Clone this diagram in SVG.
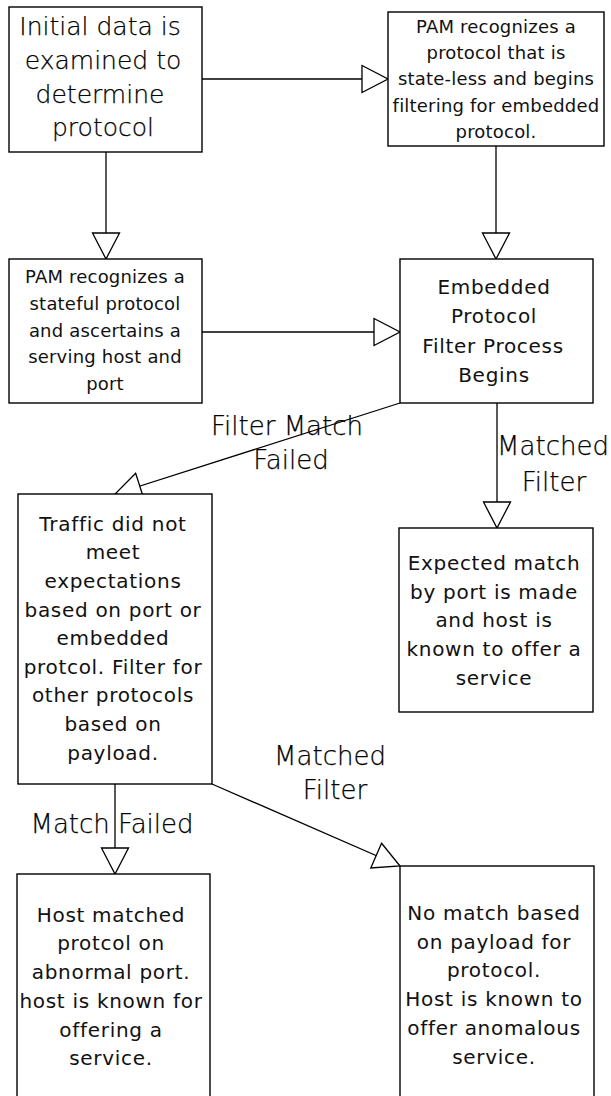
<svg xmlns="http://www.w3.org/2000/svg" width="611" height="1096" viewBox="0 0 611 1096">
  <style>
    .box { fill: #ffffff; stroke: #000000; stroke-width: 1.4; }
    .edge { fill: none; stroke: #000000; stroke-width: 1.3; marker-end: url(#open-tri); }
    text { font-family: "DejaVu Sans", Verdana, sans-serif; fill: #111111; text-anchor: middle; }
    .big { font-size: 25px; font-weight: 200; fill: #000000; stroke: #000000; stroke-width: 0.25; }
    .small { font-size: 18px; letter-spacing: 0.2px; }
    .mid { font-size: 20px; letter-spacing: 0.7px; }
    .label { font-size: 26px; font-weight: 200; fill: #000000; stroke: #000000; stroke-width: 0.25; }
  </style>
  <defs>
    <!-- hollow triangular arrowhead, tip at the end of the line -->
    <marker id="open-tri" markerUnits="userSpaceOnUse" markerWidth="30" markerHeight="32" refX="27" refY="15" orient="auto">
      <path d="M1,1.5 L27,15 L1,28.5 Z" fill="#ffffff" stroke="#000000" stroke-width="1.3"/>
    </marker>
  </defs>
  <rect width="611" height="1096" fill="#ffffff"/>

  <!-- connectors -->
  <g id="connectors">
    <line class="edge" x1="202" y1="79" x2="388" y2="79"/>
    <line class="edge" x1="106" y1="152" x2="106" y2="259"/>
    <line class="edge" x1="496" y1="146" x2="496" y2="259"/>
    <line class="edge" x1="202" y1="332" x2="400" y2="332"/>
    <line class="edge" x1="400" y1="403" x2="115" y2="494"/>
    <line class="edge" x1="497" y1="403" x2="497" y2="528"/>
    <line class="edge" x1="115" y1="784" x2="115" y2="874"/>
    <line class="edge" x1="212" y1="784" x2="400" y2="866"/>
    <text class="label" x="287" y="435">Filter Match</text>
    <text class="label" x="291" y="469">Failed</text>
    <text class="label" x="553" y="455">Matched</text>
    <text class="label" x="554" y="491">Filter</text>
    <text class="label" x="330" y="765">Matched</text>
    <text class="label" x="335" y="799">Filter</text>
    <text class="label" x="112" y="833">Match Failed</text>
  </g>

  <g id="examine">
    <rect class="box" x="9" y="7" width="193" height="145"/>
    <text class="big" x="100" y="35">Initial data is</text>
    <text class="big" x="103" y="69">examined to</text>
    <text class="big" x="100" y="102.5">determine</text>
    <text class="big" x="103" y="136">protocol</text>
  </g>

  <g id="stateless">
    <rect class="box" x="388" y="12" width="216" height="134"/>
    <text class="small" x="496" y="32.7">PAM recognizes a</text>
    <text class="small" x="496" y="59">protocol that is</text>
    <text class="small" x="496" y="85.3">state-less and begins</text>
    <text class="small" x="496" y="111.6">filtering for embedded</text>
    <text class="small" x="496" y="138">protocol.</text>
  </g>

  <g id="stateful">
    <rect class="box" x="9" y="259" width="193" height="144"/>
    <text class="small" x="105" y="283.3">PAM recognizes a</text>
    <text class="small" x="105" y="310">stateful protocol</text>
    <text class="small" x="105" y="336.7">and ascertains a</text>
    <text class="small" x="105" y="363.3">serving host and</text>
    <text class="small" x="105" y="390">port</text>
  </g>

  <g id="embedded-filter">
    <rect class="box" x="400" y="259" width="193" height="144"/>
    <text class="mid" x="494" y="294">Embedded</text>
    <text class="mid" x="494" y="323.3">Protocol</text>
    <text class="mid" x="493" y="352.6">Filter Process</text>
    <text class="mid" x="494" y="381.8">Begins</text>
  </g>

  <g id="payload-filter">
    <rect class="box" x="18" y="494" width="194" height="290"/>
    <text class="mid" x="113" y="530.7">Traffic did not</text>
    <text class="mid" x="113" y="559.3">meet</text>
    <text class="mid" x="113" y="587.9">expectations</text>
    <text class="mid" x="113" y="616.5">based on port or</text>
    <text class="mid" x="113" y="645.1">embedded</text>
    <text class="mid" x="113" y="673.7">protcol. Filter for</text>
    <text class="mid" x="113" y="702.3">other protocols</text>
    <text class="mid" x="113" y="730.9">based on</text>
    <text class="mid" x="113" y="759.5">payload.</text>
  </g>

  <g id="expected-match">
    <rect class="box" x="399" y="528" width="194" height="184"/>
    <text class="mid" x="494" y="570">Expected match</text>
    <text class="mid" x="494" y="598.7">by port is made</text>
    <text class="mid" x="494" y="627.4">and host is</text>
    <text class="mid" x="494" y="656.1">known to offer a</text>
    <text class="mid" x="494" y="684.8">service</text>
  </g>

  <g id="abnormal-port">
    <rect class="box" x="17" y="874" width="193" height="240"/>
    <text class="mid" x="111" y="921.7">Host matched</text>
    <text class="mid" x="111" y="950.4">protcol on</text>
    <text class="mid" x="111" y="979.1">abnormal port.</text>
    <text class="mid" x="111" y="1007.8">host is known for</text>
    <text class="mid" x="111" y="1036.5">offering a</text>
    <text class="mid" x="111" y="1065.2">service.</text>
  </g>

  <g id="anomalous-service">
    <rect class="box" x="400" y="866" width="194" height="250"/>
    <text class="mid" x="494" y="920">No match based</text>
    <text class="mid" x="494" y="948.7">on payload for</text>
    <text class="mid" x="494" y="977.4">protocol.</text>
    <text class="mid" x="494" y="1006.1">Host is known to</text>
    <text class="mid" x="494" y="1034.8">offer anomalous</text>
    <text class="mid" x="494" y="1063.5">service.</text>
  </g>
</svg>
